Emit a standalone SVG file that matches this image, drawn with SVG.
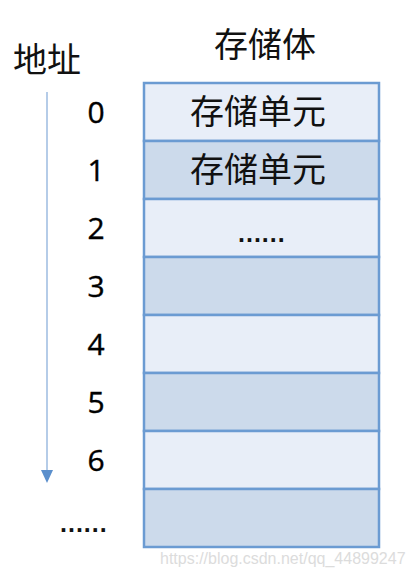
<svg xmlns="http://www.w3.org/2000/svg" width="412" height="577" viewBox="0 0 412 577">
<style>
.cjk{font-family:"Noto Sans CJK SC","Noto Sans CJK JP",sans-serif;font-size:34px;fill:#111;}
.num{font-family:"Open Sans","Liberation Sans",sans-serif;font-size:30px;fill:#000;text-anchor:middle;stroke:#000;stroke-width:0.4;}
.dots{font-family:"Liberation Sans",sans-serif;font-size:25px;font-weight:bold;fill:#111;letter-spacing:1px;}
.light{fill:#e8eef8;stroke:#6b9bd2;stroke-width:2.5;}
.dark{fill:#ccdaeb;stroke:#6b9bd2;stroke-width:2.5;}
.wm{font-family:"Liberation Sans",sans-serif;font-size:16px;fill:#dcdcdc;}
</style>
<rect width="412" height="577" fill="#fff"/>
<text class="cjk" x="265" y="57" text-anchor="middle">存储体</text>
<text class="cjk" x="47" y="72" text-anchor="middle">地址</text>
<g id="connectors">
<line x1="47" y1="92" x2="47" y2="470" stroke="#9dbbe0" stroke-width="1.5"/>
<path d="M41,470 L53,470 L47,483 Z" fill="#5b8fcc"/>
</g>
<g id="cell0"><rect class="light" x="144" y="83" width="235" height="58"/><text class="cjk" x="258" y="124" text-anchor="middle">存储单元</text><text class="num" x="96" y="123">0</text></g>
<g id="cell1"><rect class="dark" x="144" y="141" width="235" height="58"/><text class="cjk" x="258" y="182" text-anchor="middle">存储单元</text><text class="num" x="96" y="181">1</text></g>
<g id="cell2"><rect class="light" x="144" y="199" width="235" height="58"/><text class="dots" x="238" y="242">......</text><text class="num" x="96" y="239">2</text></g>
<g id="cell3"><rect class="dark" x="144" y="257" width="235" height="58"/><text class="num" x="96" y="297">3</text></g>
<g id="cell4"><rect class="light" x="144" y="315" width="235" height="58"/><text class="num" x="96" y="355">4</text></g>
<g id="cell5"><rect class="dark" x="144" y="373" width="235" height="58"/><text class="num" x="96" y="413">5</text></g>
<g id="cell6"><rect class="light" x="144" y="431" width="235" height="58"/><text class="num" x="96" y="471">6</text></g>
<g id="cell7"><rect class="dark" x="144" y="489" width="235" height="58"/><text class="dots" x="60" y="532">......</text></g>
<text class="wm" x="160" y="564">https://blog.csdn.net/qq_44899247</text>
</svg>
